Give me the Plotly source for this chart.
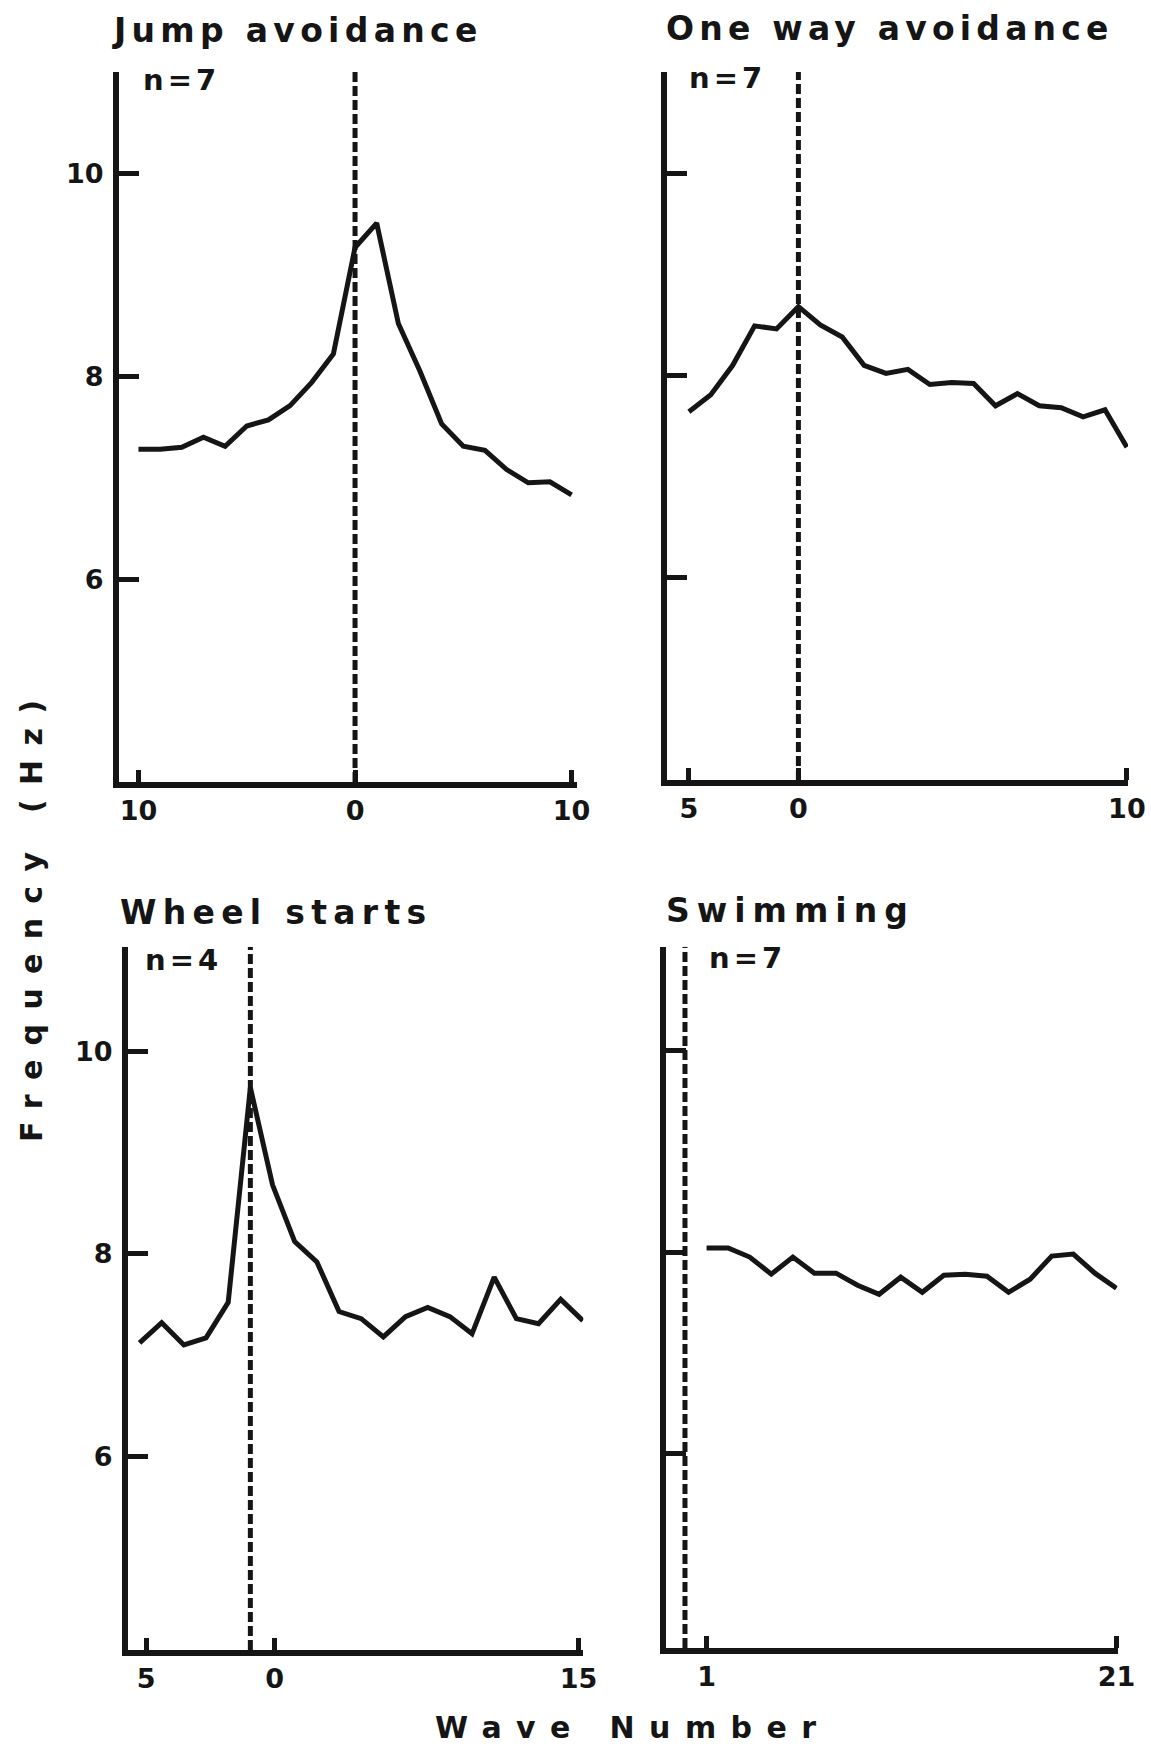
import json
import plotly.graph_objects as go

# ---------------- data ----------------
jump_waves = list(range(-10, 11))
jump_freq = [7.28, 7.28, 7.30, 7.40, 7.31, 7.51, 7.57, 7.71, 7.94, 8.22, 9.27,
             9.51, 8.52, 8.05, 7.53, 7.31, 7.27, 7.08, 6.95, 6.96, 6.83]

oneway_waves = list(range(-5, 16))
oneway_freq = [7.64, 7.81, 8.10, 8.49, 8.46, 8.68, 8.50, 8.38, 8.10, 8.02, 8.06,
               7.91, 7.93, 7.92, 7.70, 7.82, 7.70, 7.68, 7.59, 7.66, 7.29]

wheel_waves = list(range(-5, 16))
wheel_freq = [7.12, 7.32, 7.10, 7.17, 7.52, 9.64, 8.68, 8.12, 7.92, 7.43, 7.36,
              7.18, 7.38, 7.47, 7.38, 7.21, 7.77, 7.36, 7.31, 7.55, 7.34]

swim_waves = list(range(1, 21))
swim_freq = [8.04, 8.04, 7.95, 7.78, 7.95, 7.79, 7.79, 7.67, 7.58, 7.75,
             7.60, 7.77, 7.78, 7.76, 7.60, 7.73, 7.96, 7.98, 7.79, 7.64]

panel_titles = ["Jump avoidance", "One way avoidance", "Wheel starts", "Swimming"]
panel_n = ["n=7", "n=7", "n=4", "n=7"]
event_wave = [0, 0, 0, 0]

jump_xticks = [-10, 0, 10]
jump_xlabels = ["10", "0", "10"]
oneway_xticks = [-5, 0, 15]
oneway_xlabels = ["5", "0", "10"]
wheel_xticks = [-4.7, 1.1, 14.8]
wheel_xlabels = ["5", "0", "15"]
swim_xticks = [1, 20]
swim_xlabels = ["1", "21"]

freq_ticks = [6, 8, 10]
freq_labels = ["6", "8", "10"]

y_title = "Frequency (Hz)"
x_title = "Wave Number"

# ---------------- styling ----------------
INK = "#151515"
FONT = "DejaVu Sans"
W, H = 1151, 1750


def px_x(p):
    return p / W


def px_y(p):
    return 1 - p / H


panels = [
    dict(x=jump_waves, y=jump_freq, xt=jump_xticks, xl=jump_xlabels, ylab=True,
         xdom=(119, 577), xr=[-10.9, 10.25], ydom=(782, 72), yr=[4, 11], ytop=11, ybot=4),
    dict(x=oneway_waves, y=oneway_freq, xt=oneway_xticks, xl=oneway_xlabels, ylab=False,
         xdom=(667, 1128), xr=[-6.0, 15.05], ydom=(780, 72), yr=[4, 11], ytop=11, ybot=4),
    dict(x=wheel_waves, y=wheel_freq, xt=wheel_xticks, xl=wheel_xlabels, ylab=True,
         xdom=(128, 583.3), xr=[-5.52, 15.02], ydom=(1650, 946.7), yr=[4.09, 11.03], ytop=11.03, ybot=4.09),
    dict(x=swim_waves, y=swim_freq, xt=swim_xticks, xl=swim_xlabels, ylab=False,
         xdom=(666, 1117.5), xr=[-0.88, 20.05], ydom=(1648, 946.7), yr=[4.07, 11.03], ytop=11.03, ybot=4.07),
]

fig = go.Figure()
layout = dict(
    width=W, height=H,
    margin=dict(l=0, r=0, t=0, b=0, pad=0, autoexpand=False), autosize=False,
    paper_bgcolor="white", plot_bgcolor="white", showlegend=False,
    font=dict(family=FONT, color=INK),
)

tickfont = dict(family=FONT, size=27, color=INK, weight="bold")

for i, p in enumerate(panels):
    k = "" if i == 0 else str(i + 1)
    xa, ya = "x" + k, "y" + k
    # dashed marker at the event wave
    fig.add_trace(go.Scatter(
        x=[event_wave[i], event_wave[i]], y=[p["ybot"], p["ytop"]],
        mode="lines", line=dict(color=INK, width=5, dash="10px,4px"),
        xaxis=xa, yaxis=ya, hoverinfo="skip"))
    # mean frequency per wave
    fig.add_trace(go.Scatter(
        x=p["x"], y=p["y"], mode="lines",
        line=dict(color=INK, width=5), xaxis=xa, yaxis=ya))

    layout["xaxis" + k] = dict(
        domain=[px_x(p["xdom"][0]), px_x(p["xdom"][1])], range=p["xr"],
        anchor=ya, showline=True, linecolor=INK, linewidth=6, showgrid=False,
        zeroline=False, ticks="inside", ticklen=12, tickwidth=5, tickcolor=INK,
        tickmode="array", tickvals=p["xt"], ticktext=p["xl"], automargin=False,
        tickfont=tickfont, ticklabelstandoff=0)
    layout["yaxis" + k] = dict(
        domain=[px_y(p["ydom"][0]), px_y(p["ydom"][1])], range=p["yr"],
        anchor=xa, showline=True, linecolor=INK, linewidth=6, showgrid=False,
        zeroline=False, ticks="inside", ticklen=20, tickwidth=5, tickcolor=INK,
        tickmode="array", tickvals=freq_ticks, ticktext=freq_labels, automargin=False,
        showticklabels=p["ylab"], tickfont=tickfont, ticklabelstandoff=4)

annotations = []
spacing = []


def add_text(text, x, y, size, ls, xanchor="left", yanchor="middle", angle=0):
    annotations.append(dict(
        text=text, x=px_x(x), y=px_y(y), xref="paper", yref="paper",
        xanchor=xanchor, yanchor=yanchor, align="left", showarrow=False,
        textangle=angle, font=dict(family=FONT, size=size, color=INK, weight="bold")))
    spacing.append(ls)


title_pos = [(110, 31), (664, 28), (118, 912), (664, 910)]
title_ls = [5.3, 5.2, 6.3, 7]
n_pos = [(141, 80), (687, 78), (143, 960), (707, 958)]
for i in range(4):
    add_text(panel_titles[i], title_pos[i][0], title_pos[i][1], 33, title_ls[i])
    add_text(panel_n[i], n_pos[i][0], n_pos[i][1], 29, 4)

add_text(x_title, 433, 1727, 30, 14.4)
add_text(y_title, 31, 1144, 30, 14.3, xanchor="center", yanchor="bottom", angle=-90)

layout["annotations"] = annotations
fig.update_layout(**layout)

post = """
var sp = %s;
document.querySelectorAll('.js-plotly-plot g.annotation').forEach(function(g){
  var i = +g.getAttribute('data-index');
  var t = g.querySelector('text.annotation-text');
  if (t && sp[i] != null) {
    t.setAttribute('letter-spacing', sp[i] + 'px');
    t.style.letterSpacing = sp[i] + 'px';
  }
});
""" % json.dumps(spacing)

fig.write_html("out.html", post_script=post, config={"responsive": False})
